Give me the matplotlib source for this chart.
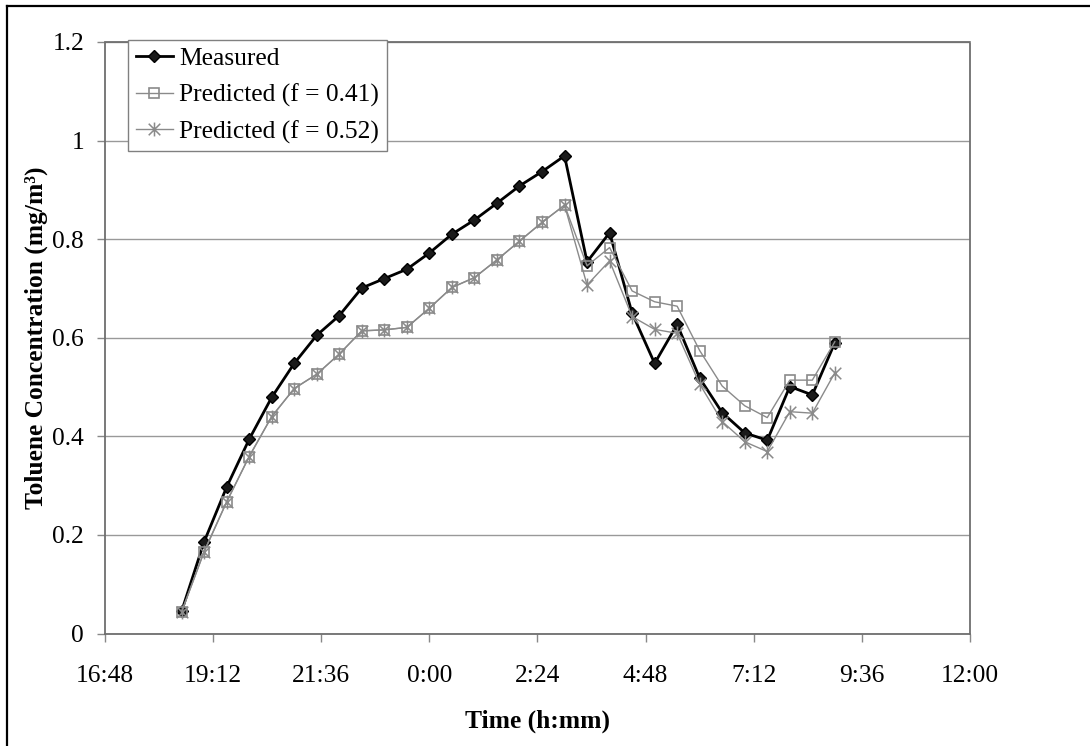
import matplotlib
matplotlib.use("Agg")
import matplotlib.pyplot as plt
from matplotlib.path import Path
from matplotlib.lines import Line2D
from matplotlib.ticker import FixedLocator, FuncFormatter

# ---- data ----
times = ["18:30", "19:00", "19:30", "20:00", "20:30", "21:00", "21:30", "22:00",
         "22:30", "23:00", "23:30", "0:00", "0:30", "1:00", "1:30", "2:00",
         "2:30", "3:00", "3:30", "4:00", "4:30", "5:00", "5:30", "6:00",
         "6:30", "7:00", "7:30", "8:00", "8:30", "9:00"]
measured = [0.045, 0.186, 0.297, 0.394, 0.479, 0.548, 0.605, 0.645, 0.701, 0.720,
            0.739, 0.772, 0.810, 0.839, 0.873, 0.908, 0.937, 0.969, 0.754, 0.813,
            0.650, 0.548, 0.627, 0.518, 0.448, 0.407, 0.392, 0.501, 0.484, 0.590]
pred_041 = [0.044, 0.166, 0.267, 0.359, 0.440, 0.497, 0.526, 0.567, 0.614, 0.616,
            0.621, 0.660, 0.702, 0.722, 0.758, 0.796, 0.834, 0.869, 0.746, 0.783,
            0.695, 0.673, 0.664, 0.574, 0.502, 0.462, 0.438, 0.514, 0.514, 0.592]
pred_052 = [0.044, 0.166, 0.267, 0.359, 0.440, 0.497, 0.526, 0.567, 0.614, 0.616,
            0.621, 0.660, 0.702, 0.722, 0.758, 0.796, 0.834, 0.869, 0.707, 0.756,
            0.643, 0.617, 0.609, 0.506, 0.430, 0.389, 0.369, 0.450, 0.447, 0.529]
series_labels = ["Measured", "Predicted (f = 0.41)", "Predicted (f = 0.52)"]
x_tick_labels = ["16:48", "19:12", "21:36", "0:00", "2:24", "4:48", "7:12", "9:36", "12:00"]
y_ticks = [0, 0.2, 0.4, 0.6, 0.8, 1.0, 1.2]


def to_hours(s):
    # hours since midnight of the first day (times before 16:00 are next day)
    h, m = s.split(":")
    v = int(h) + int(m) / 60.0
    return v + 24 if v < 16 else v


x = [to_hours(t) for t in times]
xt = [to_hours(t) for t in x_tick_labels]

plt.rcParams['font.family'] = ['Liberation Serif', 'DejaVu Serif']
FS = 18.4

fig = plt.figure(figsize=(10.9, 7.46), dpi=100)
ax = fig.add_axes([105 / 1090, 1 - 633.5 / 746, 865 / 1090, (633.5 - 42) / 746])

star = Path([(-1, -1), (1, 1), (-1, 1), (1, -1), (0, -1.2), (0, 1.2)],
            [Path.MOVETO, Path.LINETO, Path.MOVETO, Path.LINETO, Path.MOVETO, Path.LINETO])

ax.plot(x, measured, color='black', lw=2.0, marker='D', ms=6.4,
        mfc='#1a1a1a', mec='black', label=series_labels[0], zorder=3)
ax.plot(x, pred_041, color='#8a8a8a', lw=1.0, marker='s', ms=7.2,
        mfc='none', mec='#8a8a8a', mew=1.2, label=series_labels[1], zorder=4)
ax.plot(x, pred_052, color='#8a8a8a', lw=1.0, marker=star, ms=10,
        mfc='none', mec='#8a8a8a', mew=1.1, label=series_labels[2], zorder=5)

ax.set_xlim(xt[0], xt[-1])
ax.set_ylim(0, 1.2)
ax.xaxis.set_major_locator(FixedLocator(xt))
ax.set_xticklabels(x_tick_labels)
ax.yaxis.set_major_locator(FixedLocator(y_ticks))
ax.yaxis.set_major_formatter(FuncFormatter(lambda v, p: f"{v:g}"))

ax.grid(axis='y', color='#999999', lw=1.0)
ax.set_axisbelow(True)
for sp in ax.spines.values():
    sp.set_color('#6e6e6e')
    sp.set_linestyle((0, (1, 1)))
    sp.set_linewidth(1.3)

ax.tick_params(axis='both', direction='out', length=6, width=1, color='#888888',
               labelsize=FS, labelcolor='black')
ax.tick_params(axis='x', pad=17)
ax.tick_params(axis='y', pad=9)

ax.set_xlabel("Time (h:mm)", fontsize=FS, fontweight='bold')
ax.set_ylabel("Toluene Concentration (mg/m\u00b3)", fontsize=FS, fontweight='bold')
ax.xaxis.set_label_coords(0.5, -0.128)
ax.yaxis.set_label_coords(-0.066, 0.5)

leg = ax.legend(loc='upper left', bbox_to_anchor=((128 - 105) / 865, 1.004),
                borderaxespad=0, fontsize=FS, frameon=True, fancybox=False,
                edgecolor='#808080', framealpha=1, handlelength=1.45,
                handletextpad=0.25, borderpad=0.3, labelspacing=0.52)
leg.get_frame().set_linewidth(1.0)

# outer frame (left and top edges visible)
fig.add_artist(Line2D([7 / 1090, 7 / 1090], [0, 1 - 6 / 746], color='black', lw=1.6,
                      transform=fig.transFigure))
fig.add_artist(Line2D([7 / 1090, 1], [1 - 6 / 746, 1 - 6 / 746], color='black', lw=1.6,
                      transform=fig.transFigure))

fig.savefig("out.png", dpi=100)
